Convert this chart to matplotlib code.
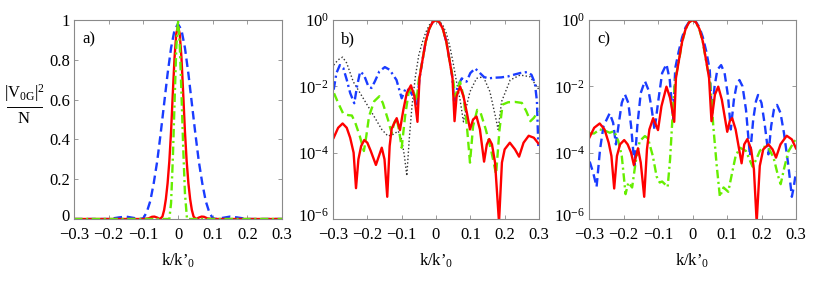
import numpy as np
import matplotlib
matplotlib.use("Agg")
import matplotlib.pyplot as plt
import matplotlib.transforms as mtransforms
from matplotlib.lines import Line2D

plt.rcParams['font.family'] = ['Liberation Serif', 'DejaVu Serif']
plt.rcParams['mathtext.fontset'] = 'custom'
plt.rcParams['mathtext.rm'] = 'Liberation Serif'
plt.rcParams['mathtext.it'] = 'Liberation Serif:italic'
plt.rcParams['mathtext.bf'] = 'Liberation Serif:bold'

# ---------------- data: panel a (linear) ----------------
a_blue_k = [-0.3, -0.2, -0.17, -0.15, -0.13, -0.11, -0.1, -0.09, -0.08, -0.07, -0.06, -0.05, -0.04,
            -0.03, -0.02, -0.01, 0.0, 0.01, 0.02, 0.03, 0.04, 0.05, 0.06, 0.07, 0.08, 0.09, 0.1,
            0.11, 0.13, 0.15, 0.17, 0.2, 0.3]
a_blue_v = [0.0, 0.0, 0.008, 0.012, 0.006, 0.0, 0.004, 0.035, 0.09, 0.18, 0.29, 0.43, 0.58,
            0.73, 0.86, 0.95, 0.98, 0.95, 0.86, 0.73, 0.58, 0.43, 0.29, 0.18, 0.09, 0.035, 0.004,
            0.0, 0.006, 0.012, 0.008, 0.0, 0.0]
a_red_k = [-0.3, -0.1, -0.085, -0.075, -0.068, -0.06, -0.052, -0.045, -0.04, -0.035, -0.03, -0.025,
           -0.02, -0.015, -0.01, -0.005, 0.0, 0.005, 0.01, 0.015, 0.02, 0.025, 0.03, 0.035, 0.04,
           0.045, 0.052, 0.06, 0.068, 0.075, 0.085, 0.1, 0.3]
a_red_v = [0.0, 0.0, 0.003, 0.011, 0.012, 0.007, 0.0, 0.012, 0.045, 0.1, 0.18, 0.29,
           0.44, 0.63, 0.81, 0.93, 0.97, 0.93, 0.81, 0.63, 0.44, 0.29, 0.18, 0.1, 0.045,
           0.012, 0.0, 0.007, 0.012, 0.011, 0.003, 0.0, 0.0]
a_green_k = [-0.3, -0.025, -0.02, -0.015, -0.01, -0.005, 0.0, 0.005, 0.01, 0.015, 0.02, 0.026, 0.3]
a_green_v = [0.0, 0.0, 0.08, 0.3, 0.58, 0.86, 1.0, 0.88, 0.63, 0.36, 0.13, 0.0, 0.0]

# ---------------- data: panel b (log10 of value) ----------------
b_black_k = [-0.298, -0.285, -0.272, -0.26, -0.241, -0.212, -0.183, -0.158, -0.14, -0.125, -0.11,
             -0.1, -0.092, -0.085, -0.078, -0.07, -0.06, -0.05, -0.04, -0.03, -0.02, -0.01, 0.0,
             0.01, 0.02, 0.03, 0.04, 0.05, 0.06, 0.07, 0.08, 0.09, 0.099, 0.118, 0.138, 0.157,
             0.172, 0.181, 0.191, 0.216, 0.245, 0.274, 0.294, 0.3]
b_black_lg = [-1.36, -1.2, -1.12, -1.3, -1.86, -2.36, -2.86, -3.3, -3.5, -3.45, -3.35,
              -3.6, -4.1, -4.7, -3.6, -2.6, -1.7, -1.05, -0.68, -0.38, -0.16, -0.04, 0.0,
              -0.04, -0.16, -0.4, -0.78, -1.3, -1.88, -2.4, -3.07, -2.55, -2.16, -1.76, -1.71, -2.16,
              -2.86, -3.3, -2.46, -1.81, -1.66, -1.71, -2.01, -2.1]
b_blue_k = [-0.298, -0.29, -0.28, -0.27, -0.26, -0.25, -0.238, -0.23, -0.221, -0.21, -0.197, -0.188,
            -0.178, -0.165, -0.149, -0.135, -0.115, -0.1, -0.088, -0.075, -0.062, -0.055, -0.048,
            -0.04, -0.03, -0.02, -0.01, 0.0, 0.01, 0.02, 0.03, 0.04, 0.048, 0.053, 0.063, 0.075,
            0.089, 0.1, 0.114, 0.128, 0.14, 0.153, 0.17, 0.19, 0.21, 0.23, 0.245, 0.265, 0.278,
            0.288, 0.294, 0.298]
b_blue_lg = [-2.1, -1.6, -1.36, -1.45, -1.8, -2.2, -2.51, -2.0, -1.56, -1.65, -2.0, -2.05,
             -1.85, -1.55, -1.42, -1.5, -1.81, -2.36, -2.05, -2.15, -2.4, -2.55, -1.75,
             -1.25, -0.65, -0.27, -0.07, 0.0, -0.07, -0.27, -0.65, -1.25, -1.75, -2.5, -2.0, -1.76,
             -1.86, -1.6, -1.46, -1.6, -1.72, -1.76, -1.74, -1.73, -1.7, -1.64, -1.6, -1.57, -1.65,
             -1.9, -2.45, -3.8]
b_green_k = [-0.297, -0.285, -0.27, -0.255, -0.245, -0.235, -0.222, -0.21, -0.203, -0.195, -0.18,
             -0.165, -0.155, -0.14, -0.129, -0.122, -0.115, -0.108, -0.1, -0.09, -0.08, -0.072,
             -0.064, -0.057, -0.05, -0.04, -0.03, -0.02, -0.01, 0.0, 0.01, 0.02, 0.03, 0.04, 0.05,
             0.056, 0.07, 0.08, 0.09, 0.099, 0.108, 0.12, 0.13, 0.145, 0.16, 0.175, 0.185, 0.194,
             0.21, 0.23, 0.25, 0.263, 0.275, 0.285, 0.298]
b_green_lg = [-2.21, -2.5, -2.83, -2.87, -2.88, -3.1, -3.5, -3.95, -3.5, -2.9, -2.45,
              -2.3, -2.5, -3.0, -3.42, -3.1, -2.96, -3.3, -3.85, -2.9, -2.2, -2.05,
              -2.2, -2.45, -1.8, -1.25, -0.65, -0.27, -0.07, 0.0, -0.07, -0.27, -0.65, -1.25, -1.8,
              -2.3, -1.86, -2.3, -3.2, -4.3, -3.2, -2.71, -2.8, -3.3, -3.9, -4.65, -3.3, -2.55,
              -2.48, -2.47, -2.5, -2.75, -3.05, -2.95, -2.75]
b_red_k = [-0.298, -0.285, -0.272, -0.26, -0.25, -0.24, -0.233, -0.226, -0.218, -0.209, -0.2,
           -0.19, -0.175, -0.158, -0.15, -0.142, -0.135, -0.129, -0.1145, -0.105, -0.095, -0.085,
           -0.073, -0.063, -0.054, -0.048, -0.04, -0.03, -0.02, -0.01, 0.0, 0.01, 0.02, 0.03,
           0.04, 0.048, 0.054, 0.06, 0.07, 0.08, 0.09, 0.099, 0.108, 0.118, 0.128, 0.14, 0.148,
           0.155, 0.163, 0.172, 0.1835, 0.192, 0.2, 0.215, 0.23, 0.242, 0.255, 0.27, 0.285, 0.298]
b_red_lg = [-3.55, -3.25, -3.12, -3.25, -3.55, -4.0, -5.07, -4.2, -3.8, -3.62, -3.7,
            -3.95, -4.37, -3.85, -4.2, -5.33, -3.8, -3.27, -2.96, -3.32, -2.7, -2.2,
            -1.97, -2.3, -3.07, -1.75, -1.25, -0.65, -0.27, -0.07, 0.0, -0.07, -0.27, -0.65,
            -1.25, -1.75, -3.05, -2.3, -2.0, -2.3, -2.8, -3.3, -3.0, -2.91, -3.3, -4.27, -3.75,
            -3.59, -3.75, -4.3, -6.1, -4.3, -3.9, -3.7, -3.9, -4.12, -3.7, -3.49, -3.55, -3.72]

# ---------------- data: panel c (log10 of value) ----------------
c_blue_k = [-0.298, -0.288, -0.278, -0.268, -0.258, -0.24, -0.23, -0.222, -0.212, -0.205, -0.196,
            -0.186, -0.178, -0.168, -0.16, -0.15, -0.138, -0.128, -0.118, -0.11, -0.1, -0.088,
            -0.0755, -0.066, -0.056, -0.05, -0.04, -0.03, -0.02, -0.01, 0.0, 0.01, 0.02, 0.03,
            0.04, 0.05, 0.056, 0.064, 0.072, 0.083, 0.093, 0.103, 0.111, 0.12, 0.128, 0.136,
            0.145, 0.155, 0.1665, 0.176, 0.184, 0.19, 0.2, 0.21, 0.22, 0.228, 0.236, 0.245,
            0.255, 0.265, 0.278, 0.288, 0.294, 0.3]
c_blue_lg = [-4.27, -4.6, -5.03, -3.9, -3.2, -2.81, -3.1, -3.75, -3.0, -2.5, -2.24,
             -2.5, -3.2, -4.4, -3.2, -2.2, -1.84, -2.1, -2.7, -3.32, -2.5, -1.6,
             -1.33, -1.8, -3.0, -1.45, -0.95, -0.52, -0.22, -0.06, 0.0, -0.06, -0.22, -0.52,
             -0.95, -1.5, -2.86, -2.0, -1.5, -1.36, -1.6, -2.3, -3.3, -2.4, -1.95, -1.81,
             -2.0, -2.7, -4.1, -3.0, -2.45, -2.26, -2.5, -3.2, -4.05, -3.2, -2.7, -2.56,
             -2.8, -3.4, -4.4, -5.33, -5.0, -4.57]
c_green_k = [-0.3, -0.285, -0.269, -0.255, -0.24, -0.227, -0.215, -0.205, -0.194, -0.186, -0.175,
             -0.165, -0.153, -0.138, -0.129, -0.115, -0.104, -0.095, -0.088, -0.08, -0.072,
             -0.065, -0.06, -0.055, -0.05, -0.04, -0.03, -0.02, -0.01, 0.0, 0.01, 0.02, 0.03,
             0.04, 0.05, 0.056, 0.06, 0.07, 0.0794, 0.09, 0.1036, 0.115, 0.125, 0.1376, 0.155,
             0.165, 0.174, 0.185, 0.195, 0.2052, 0.22, 0.235, 0.248, 0.2556, 0.265, 0.2776,
             0.29, 0.3]
c_green_lg = [-3.42, -3.42, -3.3, -3.33, -3.4, -3.35, -3.65, -4.1, -5.25, -4.9, -5.05,
              -4.3, -3.65, -3.5, -3.57, -4.1, -4.72, -4.9, -4.87, -4.95, -5.03,
              -4.2, -3.3, -2.4, -1.8, -1.27, -0.67, -0.28, -0.07, 0.0, -0.07, -0.28, -0.67,
              -1.27, -1.8, -2.5, -3.17, -4.37, -5.33, -5.05, -5.18, -4.6, -4.1, -3.85, -3.95,
              -4.2, -4.42, -4.2, -3.95, -3.82, -3.85, -4.15, -4.7, -4.95, -4.5, -3.97,
              -3.75, -3.57]
c_red_k = [-0.3, -0.285, -0.269, -0.255, -0.243, -0.235, -0.227, -0.219, -0.21, -0.198, -0.188,
           -0.178, -0.17, -0.158, -0.15, -0.14, -0.132, -0.125, -0.114, -0.1, -0.09, -0.0755,
           -0.065, -0.053, -0.048, -0.04, -0.03, -0.02, -0.01, 0.0, 0.01, 0.02, 0.03, 0.04,
           0.048, 0.055, 0.065, 0.0746, 0.085, 0.1007, 0.108, 0.115, 0.125, 0.1423, 0.15,
           0.159, 0.17, 0.178, 0.186, 0.195, 0.205, 0.22, 0.232, 0.242, 0.255, 0.273, 0.288, 0.3]
c_red_lg = [-3.57, -3.25, -3.12, -3.3, -3.7, -4.1, -5.08, -4.1, -3.75, -3.62, -3.75,
            -4.0, -4.37, -3.87, -4.3, -5.33, -3.9, -3.3, -2.96, -3.32, -2.6, -2.01,
            -2.35, -3.07, -1.75, -1.25, -0.65, -0.27, -0.07, 0.0, -0.07, -0.27, -0.65, -1.25,
            -1.75, -3.05, -2.25, -2.01, -2.4, -3.37, -3.05, -2.96, -3.3, -4.32, -3.75,
            -3.59, -3.9, -4.5, -6.1, -4.4, -3.9, -3.75, -3.9, -4.15, -3.75, -3.49, -3.6, -3.87]

x_ticks = [-0.3, -0.2, -0.1, 0.0, 0.1, 0.2, 0.3]
x_labels = ['\u22120.3', '\u22120.2', '\u22120.1', '0', '0.1', '0.2', '0.3']
a_yticks = [0, 0.2, 0.4, 0.6, 0.8, 1]
a_ylabels = ['0', '0.2', '0.4', '0.6', '0.8', '1']
log_yticks = [1e-6, 1e-4, 1e-2, 1]
log_ylabels = [r'$10^{-6}$', r'$10^{-4}$', r'$10^{-2}$', r'$10^{0}$']

RED = '#ff0000'
BLUE = '#1a3cff'
GREEN = '#66ee00'
FRAME = '#8a8a8a'
FS = 12

W, H = 830, 286
fig = plt.figure(figsize=(W / 100, H / 100), dpi=100)

def px_axes(x0, x1, y0, y1):
    return fig.add_axes([x0 / W, 1 - y1 / H, (x1 - x0) / W, (y1 - y0) / H])

axa = px_axes(74, 282, 20, 219)
axb = px_axes(333, 539, 20, 219)
axc = px_axes(589, 796, 20, 219)

def style(ax):
    for s in ax.spines.values():
        s.set_color(FRAME)
        s.set_linewidth(0.8)
    ax.tick_params(which='both', direction='in', top=True, right=True, color=FRAME,
                   labelsize=FS, length=3, width=0.6)
    ax.tick_params(axis='x', pad=6)
    ax.tick_params(axis='y', pad=3)
    ax.tick_params(which='minor', length=0)
    ax.set_xlim(-0.3, 0.3)
    ax.set_xticks(x_ticks)
    ax.set_xticklabels(x_labels)
    ax.set_xlabel("k/k\u2019$_{\\mathrm{0}}$", fontsize=FS, labelpad=6)

dash = (0, (3.6, 2.0))
dashdot = (0, (3.6, 1.5, 0.9, 1.5))
dot = (0, (1.0, 1.6))
lw = 1.7

# panel a
axa.plot(a_blue_k, a_blue_v, color=BLUE, ls=dash, lw=lw)
axa.plot(a_red_k, a_red_v, color=RED, ls='-', lw=lw)
axa.plot(a_green_k, a_green_v, color=GREEN, ls=dashdot, lw=lw)
style(axa)
axa.set_ylim(0, 1)
axa.set_yticks(a_yticks)
axa.set_yticklabels(a_ylabels)
axa.text(0.04, 0.88, 'a)', transform=axa.transAxes, fontsize=FS)

# panel b
axb.plot(b_black_k, 10 ** np.array(b_black_lg), color='#333333', ls=dot, lw=1.0)
axb.plot(b_blue_k, 10 ** np.array(b_blue_lg), color=BLUE, ls=dashdot, lw=lw)
axb.plot(b_green_k, 10 ** np.array(b_green_lg), color=GREEN, ls=dash, lw=lw)
axb.plot(b_red_k, 10 ** np.array(b_red_lg), color=RED, ls='-', lw=lw)
axb.set_yscale('log')
style(axb)
axb.set_ylim(1e-6, 1)
axb.set_yticks(log_yticks)
axb.set_yticklabels(log_ylabels)
axb.text(0.04, 0.88, 'b)', transform=axb.transAxes, fontsize=FS)

# panel c
axc.plot(c_blue_k, 10 ** np.array(c_blue_lg), color=BLUE, ls=dash, lw=lw)
axc.plot(c_green_k, 10 ** np.array(c_green_lg), color=GREEN, ls=dashdot, lw=lw)
axc.plot(c_red_k, 10 ** np.array(c_red_lg), color=RED, ls='-', lw=lw)
axc.set_yscale('log')
style(axc)
axc.set_ylim(1e-6, 1)
axc.set_yticks(log_yticks)
axc.set_yticklabels(log_ylabels)
axc.text(0.04, 0.88, 'c)', transform=axc.transAxes, fontsize=FS)

# lift the bottom y tick label of each panel slightly so it clears the x tick labels
for ax in (axa, axb, axc):
    lab = ax.get_yticklabels()[0]
    lab.set_transform(lab.get_transform() +
                      mtransforms.ScaledTranslation(0, 3 / 72, fig.dpi_scale_trans))

# y label of panel a as a fraction
fig.text(24 / W, 1 - 93 / H, r'$|\mathrm{V}_{\mathrm{0G}}|^{2}$', ha='center', va='center', fontsize=FS)
fig.add_artist(Line2D([7 / W, 42 / W], [1 - 107 / H, 1 - 107 / H], color='black', lw=0.7))
fig.text(24 / W, 1 - 119 / H, 'N', ha='center', va='center', fontsize=FS)

fig.savefig('out.png', dpi=100)
